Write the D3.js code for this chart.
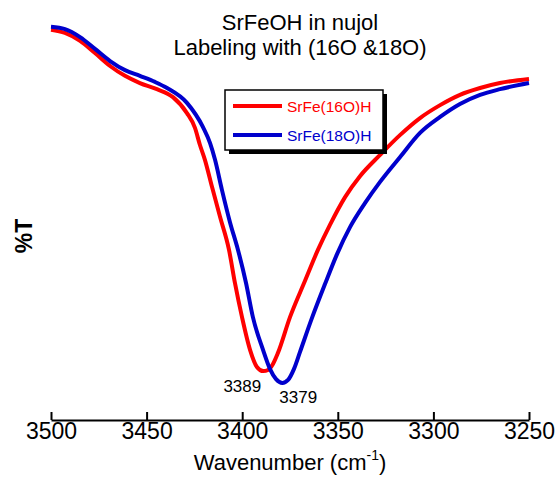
<!DOCTYPE html>
<html>
<head>
<meta charset="UTF-8">
<title>SrFeOH in nujol</title>
<script src="https://d3js.org/d3.v7.min.js"></script>
<style>
body { margin: 0; background: white; }
svg { font-family: 'Liberation Sans', Arial, sans-serif; }
</style>
</head>
<body>
<script>
// wavenumber (cm-1) and %T
var wn16 = [3500, 3492.7, 3484.8, 3477, 3469.1, 3461.3, 3453.5, 3444.6, 3436.2, 3428.9, 3424.7, 3422.1, 3419.5, 3415.8, 3411.6, 3406.9, 3403.8, 3400.1, 3395.9, 3392.3, 3389, 3386.5, 3383.9, 3381.3, 3375, 3367.2, 3360.4, 3354.1, 3346.2, 3338.4, 3327.9, 3317.5, 3307, 3296.5, 3286.1, 3275.6, 3265.2, 3250];
var t16  = [97.4, 96.6, 94.5, 91.3, 87.9, 85.3, 83.4, 81.8, 79.7, 75.5, 71.6, 67.1, 63.2, 56.1, 48.2, 39.5, 30.8, 21.8, 13.2, 8.7, 7.6, 7.9, 9.5, 12.4, 21.8, 31.3, 39.5, 46.1, 53.4, 58.9, 64.5, 69.7, 74.2, 77.6, 80.3, 82.1, 83.4, 84.5];

var wn18 = [3500, 3492.7, 3484.8, 3477, 3469.1, 3461.3, 3453.5, 3445.6, 3439.3, 3428.9, 3420.5, 3416.8, 3414.2, 3410.6, 3406.4, 3402.2, 3398, 3394.4, 3389.1, 3385.5, 3382.3, 3379, 3376, 3372.9, 3369.8, 3363.5, 3356.7, 3350.4, 3343.6, 3335.8, 3327.9, 3317.5, 3307, 3296.5, 3286.1, 3275.6, 3265.2, 3250];
var t18  = [98.2, 97.6, 95.5, 92.4, 89.2, 86.8, 85.3, 83.7, 82.1, 78.2, 71.8, 67.6, 63.2, 55.3, 46.8, 39.5, 30.8, 21.8, 13.2, 8.2, 5.5, 4.5, 5.3, 8.2, 12.6, 21.6, 30.5, 38.4, 45.5, 51.8, 57.4, 63.9, 70.3, 74.5, 77.9, 80.3, 81.8, 83.4];

var xTicks = [3500, 3450, 3400, 3350, 3300, 3250];
var peaks = [3389, 3379];

var width = 558, height = 480;
var svg = d3.select("body").append("svg")
    .attr("width", width)
    .attr("height", height);

var x = d3.scaleLinear().domain([3500, 3250]).range([51, 529]);
var y = d3.scaleLinear().domain([0, 100]).range([400, 20]);

var line = d3.line()
    .x(function(d) { return x(d[0]); })
    .y(function(d) { return y(d[1]); })
    .curve(d3.curveMonotoneX);

var series = [
    {name: "SrFe(16O)H", color: "#ff0000", data: d3.zip(wn16, t16)},
    {name: "SrFe(18O)H", color: "#0000cc", data: d3.zip(wn18, t18)}
];

// red first, blue on top
series.forEach(function(s) {
    svg.append("path")
        .attr("d", line(s.data))
        .attr("fill", "none")
        .attr("stroke", s.color)
        .attr("stroke-width", 4)
        .attr("stroke-linejoin", "round");
});

// axis, ticks pointing up
var axis = svg.append("g")
    .attr("transform", "translate(0,420)")
    .call(d3.axisBottom(x).tickValues(xTicks).tickFormat(d3.format("d"))
        .tickSizeInner(-8).tickSizeOuter(0).tickPadding(3));
axis.select(".domain").attr("stroke", "black").attr("stroke-width", 2);
axis.selectAll(".tick line").attr("stroke", "black").attr("stroke-width", 2);
axis.selectAll(".tick text")
    .attr("font-family", "'Liberation Sans', Arial, sans-serif")
    .attr("font-size", 23)
    .attr("fill", "black");

var xl = svg.append("text")
    .attr("x", 290)
    .attr("y", 470)
    .attr("text-anchor", "middle")
    .attr("font-size", 22);
xl.append("tspan").text("Wavenumber (cm");
xl.append("tspan").attr("font-size", 14).attr("dy", -10).text("-1");
xl.append("tspan").attr("dy", 10).text(")");

svg.append("text")
    .attr("transform", "translate(32,236) rotate(-90)")
    .attr("text-anchor", "middle")
    .attr("font-size", 23)
    .attr("font-weight", "bold")
    .text("%T");

// title
svg.append("text")
    .attr("x", 300).attr("y", 30)
    .attr("text-anchor", "middle")
    .attr("font-size", 22)
    .text("SrFeOH in nujol");
svg.append("text")
    .attr("x", 300).attr("y", 55)
    .attr("text-anchor", "middle")
    .attr("font-size", 22)
    .text("Labeling with (16O &18O)");

// peak labels
svg.append("text")
    .attr("x", x(peaks[0]) - 2).attr("y", 392)
    .attr("text-anchor", "end")
    .attr("font-size", 17)
    .text(peaks[0]);
svg.append("text")
    .attr("x", x(peaks[1]) - 3).attr("y", 403)
    .attr("font-size", 17)
    .text(peaks[1]);

// legend
var lg = svg.append("g").attr("transform", "translate(225,90)");
lg.append("rect").attr("x", 4).attr("y", 4).attr("width", 158).attr("height", 60).attr("fill", "black");
lg.append("rect").attr("width", 158).attr("height", 60).attr("fill", "white").attr("stroke", "black").attr("stroke-width", 1.5);
series.forEach(function(s, i) {
    var yy = 16 + i * 29;
    lg.append("line")
        .attr("x1", 8).attr("x2", 57)
        .attr("y1", yy).attr("y2", yy)
        .attr("stroke", s.color).attr("stroke-width", 4);
    lg.append("text")
        .attr("x", 62).attr("y", yy + 6)
        .attr("font-size", 15.5)
        .attr("fill", s.color)
        .text(s.name);
});
</script>
</body>
</html>
